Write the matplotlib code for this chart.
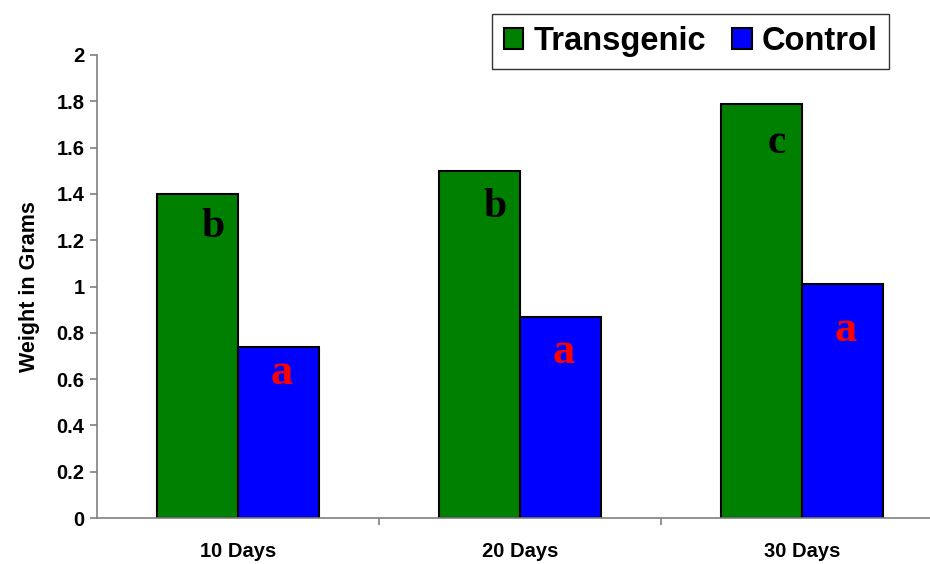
import numpy as np
import matplotlib
matplotlib.use("Agg")
import matplotlib.pyplot as plt

categories = ["10 Days", "20 Days", "30 Days"]
transgenic = [1.40, 1.50, 1.79]
control = [0.74, 0.87, 1.01]

# significance letters and the heights they sit at
trans_letters = ["b", "b", "c"]
trans_letter_y = [1.214, 1.30, 1.577]
ctrl_letters = ["a", "a", "a"]
ctrl_letter_y = [0.578, 0.668, 0.763]

plt.rcParams["font.family"] = ["Liberation Sans", "DejaVu Sans"]

fig = plt.figure(figsize=(9.3, 5.64), dpi=100)
ax = fig.add_axes([97 / 930, 1 - 518 / 564, 846 / 930, 463 / 564])

x = np.arange(len(categories))
w = 1 / 3.5
ax.bar(x - w / 2, transgenic, w, color="#008000", edgecolor="black", linewidth=1.5, label="Transgenic")
ax.bar(x + w / 2, control, w, color="#0000ff", edgecolor="black", linewidth=1.5, label="Control")

for i in range(len(categories)):
    ax.text(x[i] - 0.09, trans_letter_y[i], trans_letters[i], family=["Liberation Serif"],
            fontweight="heavy", fontsize=30, color="black", ha="center", va="baseline")
    ax.text(x[i] + 0.155, ctrl_letter_y[i], ctrl_letters[i], family=["Liberation Serif"],
            fontweight="heavy", fontsize=32, color="red", ha="center", va="baseline")

ax.set_xlim(-0.5, 2.5)
ax.set_ylim(0, 2)
ax.set_yticks(np.arange(0, 2.01, 0.2))
ax.set_yticklabels(["0", "0.2", "0.4", "0.6", "0.8", "1", "1.2", "1.4", "1.6", "1.8", "2"],
                   fontweight="bold", fontsize=14.5)
ax.set_xticks(x)
ax.set_xticklabels(categories, fontweight="bold", fontsize=14.5)
ax.set_xticks([0.5, 1.5], minor=True)
ax.tick_params(axis="x", which="major", length=0, pad=17)
ax.tick_params(axis="x", which="minor", length=5, color="#808080", width=1.2)
ax.tick_params(axis="y", length=5, color="#808080", width=1.2, pad=4)
ax.set_ylabel("Weight in Grams", fontweight="bold", fontsize=15.5, labelpad=12)

for s in ["top", "right"]:
    ax.spines[s].set_visible(False)
for s in ["left", "bottom"]:
    ax.spines[s].set_color("#808080")
    ax.spines[s].set_linewidth(1.2)

leg = ax.legend(loc="upper right", bbox_to_anchor=(889 / 930, 1 - 14 / 564),
                bbox_transform=fig.transFigure, ncol=2, fancybox=False,
                prop={"family": "Liberation Sans", "weight": "bold", "size": 23.5},
                handlelength=0.6, handleheight=0.6, handletextpad=0.3,
                columnspacing=0.8, borderpad=0.36, borderaxespad=0)
leg.get_frame().set_edgecolor("black")
leg.get_frame().set_linewidth(1.0)

fig.savefig("out.png", dpi=100)
